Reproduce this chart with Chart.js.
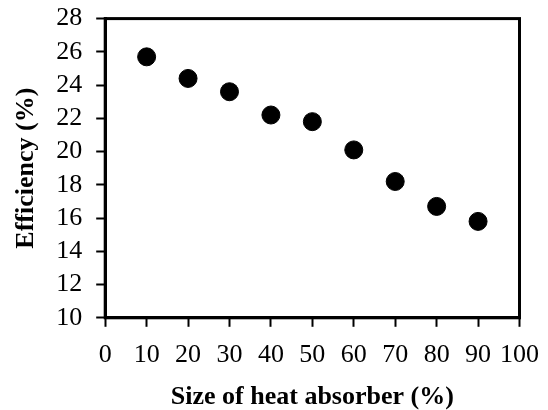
<!DOCTYPE html>
<html>
<head>
<meta charset="utf-8">
<script src="https://cdn.jsdelivr.net/npm/chart.js@4/dist/chart.umd.min.js"></script>
<style>
  html, body { margin: 0; padding: 0; background: #fff; overflow: hidden; }
  #wrap { width: 548px; height: 410px; position: relative; overflow: hidden; }
  #efficiency-chart { position: absolute; left: 0; top: -11px; }
</style>
</head>
<body>
<div id="wrap"><canvas id="efficiency-chart" width="552" height="421"></canvas></div>
<script>
// absorber size (%) and measured efficiency (%)
const absorberSize = [10, 20, 30, 40, 50, 60, 70, 80, 90];
const efficiency = [25.7, 24.4, 23.6, 22.2, 21.8, 20.1, 18.2, 16.7, 15.8];

const xTitle = 'Size of heat absorber (%)';
const yTitle = 'Efficiency (%)';

// box round the plot area (top and right sides aren't drawn by the axes)
const frame = {
    id: 'frame',
    afterDraw(chart) {
        const a = chart.chartArea;
        const c = chart.ctx;
        c.save();
        c.strokeStyle = '#000';
        c.lineWidth = 3;
        c.strokeRect(a.left, a.top, a.right - a.left, a.bottom - a.top);
        c.restore();
    }
};

const ctx = document.getElementById('efficiency-chart').getContext('2d');

new Chart(ctx, {
    type: 'scatter',
    data: {
        datasets: [{
            data: absorberSize.map((x, i) => ({ x: x, y: efficiency[i] })),
            backgroundColor: '#000',
            borderColor: '#000',
            pointRadius: 9,
            pointHoverRadius: 9
        }]
    },
    options: {
        responsive: false,
        animation: false,
        layout: { padding: { top: 0, right: 2, left: 11, bottom: 0 } },
        plugins: {
            legend: { display: false },
            tooltip: { enabled: false }
        },
        scales: {
            x: {
                type: 'linear',
                min: 0,
                max: 100,
                ticks: {
                    stepSize: 10,
                    autoSkip: false,
                    minRotation: 0,
                    maxRotation: 0,
                    color: '#000',
                    padding: 13,
                    font: { family: 'Liberation Serif', size: 26 }
                },
                grid: {
                    drawOnChartArea: false,
                    tickLength: 9,
                    tickWidth: 2,
                    tickColor: '#000'
                },
                border: { color: '#000', width: 3 },
                title: {
                    display: true,
                    text: xTitle,
                    color: '#000',
                    padding: { top: 0, bottom: 0 },
                    font: { family: 'Liberation Serif', size: 26, weight: 'bold', lineHeight: 1 }
                }
            },
            y: {
                min: 10,
                max: 28,
                ticks: {
                    stepSize: 2,
                    autoSkip: false,
                    color: '#000',
                    padding: 14,
                    font: { family: 'Liberation Serif', size: 26 }
                },
                grid: {
                    drawOnChartArea: false,
                    tickLength: 9,
                    tickWidth: 2,
                    tickColor: '#000'
                },
                border: { color: '#000', width: 3 },
                title: {
                    display: true,
                    text: yTitle,
                    color: '#000',
                    padding: { top: 0, bottom: 0 },
                    font: { family: 'Liberation Serif', size: 26, weight: 'bold' }
                }
            }
        }
    },
    plugins: [frame]
});
</script>
</body>
</html>
